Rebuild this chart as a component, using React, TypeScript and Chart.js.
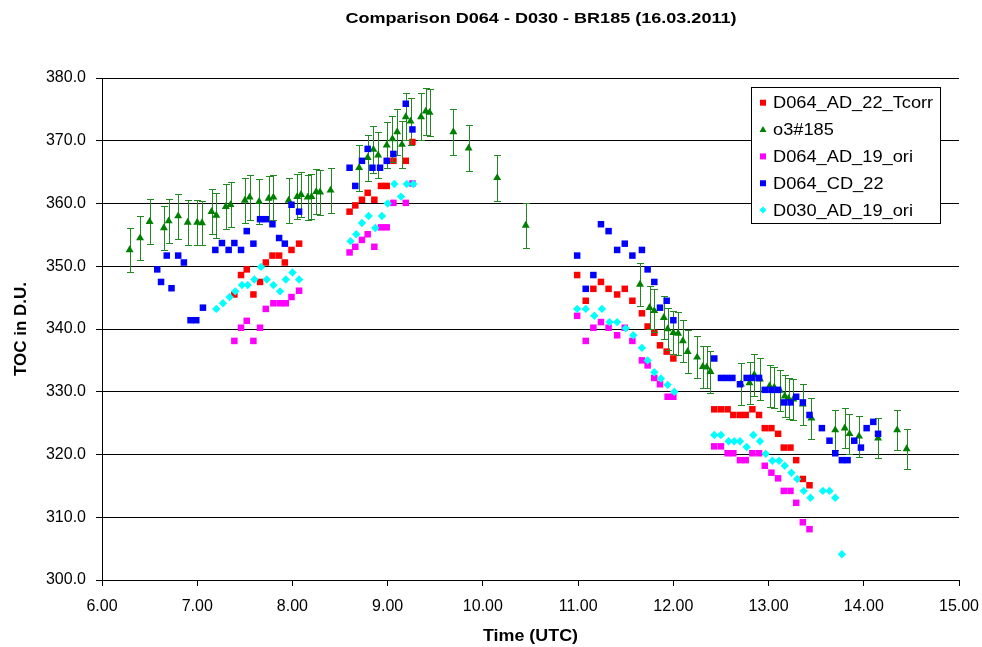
import React, { useEffect, useRef } from 'react';
import { Chart, registerables } from 'chart.js';

Chart.register(...registerables);

const W = 982;
const H = 647;

const chartTitle = 'Comparison D064 - D030 - BR185 (16.03.2011)';
const xAxisTitle = 'Time (UTC)';
const yAxisTitle = 'TOC in D.U.';
const seriesNames = ['D064_AD_22_Tcorr', 'o3#185', 'D064_AD_19_ori', 'D064_CD_22', 'D030_AD_19_ori'];
const seriesColors = ['#ff0000', '#008000', '#ff00ff', '#0000ff', '#00ffff'];
const seriesShapes = ['rect', 'triangle', 'rect', 'rect', 'rectRot'];

const xMin = 6, xMax = 15, xStep = 1;
const yMin = 300, yMax = 380, yStep = 10;
const errFraction = 0.01; // o3#185 error bars: +/- 1 %

// D064_AD_22_Tcorr
const redT = [7.39, 7.46, 7.52, 7.59, 7.66, 7.72, 7.79, 7.86, 7.92, 7.99, 8.07,
  8.60, 8.66, 8.73, 8.79, 8.86, 8.93, 8.99, 9.06, 9.19, 9.26,
  10.99, 11.08, 11.16, 11.24, 11.32, 11.41, 11.49, 11.57, 11.67, 11.73, 11.80, 11.86, 11.93, 12.00,
  12.43, 12.50, 12.57, 12.63, 12.70, 12.76, 12.83, 12.90, 12.96, 13.03, 13.10, 13.16, 13.23, 13.29, 13.36, 13.43];
const redV = [345.5, 348.6, 349.5, 345.5, 347.5, 350.6, 351.7, 351.7, 350.6, 352.6, 353.6,
  358.7, 359.7, 360.6, 361.7, 360.6, 362.8, 362.8, 366.8, 366.8, 369.8,
  348.6, 344.5, 346.4, 347.5, 346.4, 345.5, 346.4, 344.5, 342.5, 340.4, 339.4, 337.4, 336.4, 335.3,
  327.2, 327.2, 327.2, 326.3, 326.3, 326.3, 327.2, 326.3, 324.2, 324.2, 323.3, 321.1, 321.1, 319.1, 316.1, 315.1];

// o3#185
const greenT = [6.29, 6.40, 6.50, 6.65, 6.70, 6.80, 6.90, 7.00, 7.05, 7.15, 7.20, 7.30, 7.35, 7.50, 7.55, 7.65,
  7.75, 7.80, 7.96, 8.05, 8.09, 8.16, 8.20, 8.25, 8.29, 8.40,
  8.70, 8.79, 8.85, 8.90, 8.99, 9.05, 9.10, 9.15, 9.19, 9.24, 9.35, 9.40, 9.44, 9.69, 9.85, 10.15, 10.45,
  11.65, 11.75, 11.80, 11.90, 11.94, 12.00, 12.05, 12.10, 12.15, 12.25, 12.31, 12.35, 12.39,
  12.71, 12.80, 12.85, 12.91, 13.01, 13.06, 13.12, 13.17, 13.21, 13.26, 13.36, 13.45,
  13.70, 13.80, 13.85, 13.95, 14.15, 14.35, 14.45];
const greenV = [352.6, 354.5, 357.1, 356.1, 357.2, 358.0, 357.0, 357.0, 356.9, 358.7, 358.1, 359.5, 359.8, 360.5, 361.0, 360.3,
  360.8, 361.0, 360.5, 361.1, 361.4, 361.0, 361.1, 361.9, 361.8, 362.1,
  365.7, 367.3, 368.6, 367.7, 369.3, 370.3, 371.4, 369.4, 373.8, 373.1, 373.8, 374.7, 374.5, 371.4, 368.8, 364.1, 356.5,
  347.1, 343.4, 342.9, 341.8, 340.0, 339.4, 339.3, 338.1, 336.4, 335.5, 334.0, 333.9, 333.2,
  331.2, 331.4, 332.7, 332.0, 330.9, 330.7, 330.2, 329.3, 328.9, 328.8, 328.0, 325.8,
  323.9, 324.2, 323.3, 322.9, 322.6, 323.9, 320.9];

// D064_AD_19_ori
const magentaT = [7.39, 7.46, 7.52, 7.59, 7.66, 7.72, 7.80, 7.87, 7.93, 7.99, 8.07,
  8.60, 8.66, 8.73, 8.79, 8.86, 8.93, 8.99, 9.06, 9.19, 9.26,
  10.99, 11.08, 11.16, 11.24, 11.32, 11.41, 11.49, 11.57, 11.67, 11.73, 11.80, 11.86, 11.94, 12.00,
  12.43, 12.50, 12.57, 12.63, 12.70, 12.76, 12.83, 12.90, 12.96, 13.03, 13.10, 13.16, 13.23, 13.29, 13.36, 13.43];
const magentaV = [338.1, 340.2, 341.3, 338.1, 340.2, 343.2, 344.1, 344.1, 344.1, 345.1, 346.1,
  352.2, 353.1, 354.2, 355.1, 353.1, 356.2, 356.2, 360.1, 360.1, 363.2,
  342.1, 338.1, 340.2, 341.1, 340.2, 339.0, 340.2, 338.1, 335.0, 334.2, 332.2, 331.2, 329.2, 329.2,
  321.3, 321.3, 320.2, 320.2, 319.1, 319.1, 320.2, 320.2, 318.2, 317.1, 316.2, 314.2, 314.2, 312.3, 309.2, 308.1];

// D064_CD_22
const blueT = [6.58, 6.62, 6.68, 6.73, 6.80, 6.86, 6.93, 6.99, 7.06, 7.19, 7.26, 7.33, 7.39, 7.46, 7.52, 7.59,
  7.66, 7.72, 7.79, 7.86, 7.92, 7.99, 8.07,
  8.60, 8.66, 8.73, 8.79, 8.84, 8.92, 8.99, 9.06, 9.19, 9.26,
  10.99, 11.08, 11.16, 11.24, 11.32, 11.41, 11.49, 11.57, 11.67, 11.73, 11.80, 11.86, 11.93, 12.00,
  12.43, 12.50, 12.56, 12.62, 12.70, 12.77, 12.83, 12.90, 12.96, 13.03, 13.10, 13.16, 13.23, 13.29, 13.36, 13.43,
  13.56, 13.64, 13.70, 13.77, 13.83, 13.90, 13.97, 14.03, 14.10, 14.15];
const blueV = [349.5, 347.5, 351.7, 346.5, 351.7, 350.6, 341.4, 341.4, 343.4, 352.6, 353.7, 352.6, 353.7, 352.6, 355.6, 353.6,
  357.5, 357.5, 356.7, 354.5, 353.6, 359.8, 358.7,
  365.7, 362.8, 366.8, 368.7, 365.7, 365.7, 366.8, 367.9, 375.9, 371.8,
  351.7, 346.4, 348.6, 356.7, 355.6, 352.6, 353.6, 351.7, 352.6, 349.5, 347.5, 343.4, 344.5, 341.4,
  335.3, 332.2, 332.2, 332.2, 331.2, 332.2, 332.2, 332.2, 330.3, 330.3, 330.3, 328.3, 328.3, 329.2, 328.3, 326.3,
  324.2, 322.2, 320.2, 319.1, 319.1, 322.2, 321.1, 324.2, 325.2, 323.3];

// D030_AD_19_ori
const cyanT = [7.20, 7.27, 7.34, 7.40, 7.47, 7.53, 7.60, 7.67, 7.73, 7.80, 7.87, 7.93, 8.00, 8.07,
  8.61, 8.67, 8.73, 8.80, 8.87, 8.94, 9.00, 9.07, 9.14, 9.20, 9.27,
  10.99, 11.08, 11.17, 11.25, 11.33, 11.41, 11.50, 11.58, 11.67, 11.73, 11.80, 11.87, 11.94, 12.01,
  12.43, 12.50, 12.58, 12.64, 12.70, 12.77, 12.84, 12.91, 12.97, 13.04, 13.11, 13.17, 13.24, 13.30, 13.37, 13.44,
  13.57, 13.64, 13.70, 13.77];
const cyanV = [343.2, 344.1, 345.1, 346.0, 347.0, 347.0, 347.9, 349.9, 347.9, 347.0, 346.0, 347.9, 349.0, 347.9,
  354.0, 355.1, 356.9, 358.0, 356.1, 358.0, 360.0, 363.1, 361.1, 363.1, 363.1,
  343.2, 343.2, 342.1, 343.2, 341.1, 341.1, 340.1, 339.0, 337.0, 335.0, 333.1, 332.1, 331.1, 330.0,
  323.1, 323.1, 322.1, 322.1, 322.1, 321.2, 323.1, 322.1, 320.1, 319.0, 319.0, 318.2, 317.1, 316.1, 314.2, 313.1,
  314.2, 314.2, 313.1, 304.1];

const seriesT = [redT, greenT, magentaT, blueT, cyanT];
const seriesV = [redV, greenV, magentaV, blueV, cyanV];
const seriesRadius = [4.6, 4.6, 4.6, 4.6, 4.2];

const FONT = '"Liberation Sans", Arial, sans-serif';

function drawStretched(ctx: CanvasRenderingContext2D, text: string, x: number, y: number, targetW: number | null, sx: number, align: CanvasTextAlign) {
  const w = ctx.measureText(text).width;
  const s = targetW ? targetW / w : sx;
  ctx.save();
  ctx.translate(x, y);
  ctx.scale(s, 1);
  ctx.textAlign = align;
  ctx.fillText(text, 0, 0);
  ctx.restore();
}

const errorBarPlugin = {
  id: 'errorBars',
  beforeDatasetDraw(chart: any, args: any) {
    const ds = chart.data.datasets[args.index];
    if (!ds.errorBars) return;
    const ctx = chart.ctx as CanvasRenderingContext2D;
    const xs = chart.scales.x;
    const ys = chart.scales.y;
    ctx.save();
    ctx.strokeStyle = 'rgb(34,136,34)';
    ctx.lineWidth = 1;
    ds.data.forEach((p: any) => {
      const x = Math.round(xs.getPixelForValue(p.x)) + 0.5;
      const y1 = Math.round(ys.getPixelForValue(p.y * (1 + errFraction))) + 0.5;
      const y2 = Math.round(ys.getPixelForValue(p.y * (1 - errFraction))) + 0.5;
      ctx.beginPath();
      ctx.moveTo(x, y1); ctx.lineTo(x, y2);
      ctx.moveTo(x - 3.5, y1); ctx.lineTo(x + 3.5, y1);
      ctx.moveTo(x - 3.5, y2); ctx.lineTo(x + 3.5, y2);
      ctx.stroke();
    });
    ctx.restore();
  },
};

function drawMarker(ctx: CanvasRenderingContext2D, shape: string, x: number, y: number, color: string) {
  ctx.fillStyle = color;
  ctx.beginPath();
  if (shape === 'rect') {
    ctx.rect(x - 3, y - 3, 6, 6);
  } else if (shape === 'triangle') {
    ctx.moveTo(x, y - 3.5); ctx.lineTo(x + 3.5, y + 2.5); ctx.lineTo(x - 3.5, y + 2.5); ctx.closePath();
  } else {
    ctx.moveTo(x, y - 3.5); ctx.lineTo(x + 3.5, y); ctx.lineTo(x, y + 3.5); ctx.lineTo(x - 3.5, y); ctx.closePath();
  }
  ctx.fill();
}

const textPlugin = {
  id: 'texts',
  afterDraw(chart: any) {
    const ctx = chart.ctx as CanvasRenderingContext2D;
    const area = chart.chartArea;
    ctx.save();
    ctx.fillStyle = '#000';
    ctx.textBaseline = 'middle';
    // title
    ctx.font = `bold 15px ${FONT}`;
    drawStretched(ctx, chartTitle, 541, 19, 391, 1, 'center');
    // x title
    ctx.font = `bold 16px ${FONT}`;
    drawStretched(ctx, xAxisTitle, (area.left + area.right) / 2, 637, 95, 1, 'center');
    // y title
    ctx.save();
    ctx.translate(22, (area.top + area.bottom) / 2);
    ctx.rotate(-Math.PI / 2);
    ctx.font = `bold 16px ${FONT}`;
    drawStretched(ctx, yAxisTitle, 0, 0, 94, 1, 'center');
    ctx.restore();
    // legend box
    const bx = 751.5, by = 87.5, bw = 189, bh = 136;
    ctx.fillStyle = '#fff';
    ctx.fillRect(bx, by, bw, bh);
    ctx.strokeStyle = '#000';
    ctx.lineWidth = 1;
    ctx.strokeRect(bx, by, bw, bh);
    ctx.font = `16px ${FONT}`;
    seriesNames.forEach((name, i) => {
      const cy = 102.7 + i * 26.85;
      drawMarker(ctx, seriesShapes[i], 763, cy, seriesColors[i]);
      ctx.fillStyle = '#000';
      drawStretched(ctx, name, 773, cy + 1, null, 1.14, 'left');
    });
    ctx.restore();
  },
};

export default function App() {
  const ref = useRef<HTMLCanvasElement | null>(null);
  useEffect(() => {
    if (!ref.current) return;
    const order = [5, 4, 3, 2, 1];
    const datasets: any[] = seriesNames.map((name, i) => ({
      label: name,
      data: seriesT[i].map((t, k) => ({ x: t, y: seriesV[i][k] })),
      backgroundColor: seriesColors[i],
      borderColor: seriesColors[i],
      pointStyle: seriesShapes[i],
      pointRadius: seriesRadius[i],
      pointBorderWidth: 0,
      showLine: false,
      order: order[i],
      errorBars: i === 1,
    }));
    const tickFont = { family: FONT, size: 16 };
    const chart = new Chart(ref.current, {
      type: 'scatter',
      data: { datasets },
      plugins: [errorBarPlugin, textPlugin],
      options: {
        responsive: false,
        animation: false,
        events: [],
        layout: { padding: { left: 0, right: 23, top: 78, bottom: 0 } },
        plugins: { legend: { display: false }, title: { display: false }, tooltip: { enabled: false } },
        scales: {
          x: {
            type: 'linear', min: xMin, max: xMax,
            ticks: { stepSize: xStep, autoSkip: false, maxRotation: 0, color: '#000', font: tickFont, padding: 11,
              callback: (v: any) => Number(v).toFixed(2) },
            grid: { display: true, drawOnChartArea: false, drawTicks: true, tickLength: 6, color: '#000' },
            border: { display: true, color: '#000' },
            afterFit: (s: any) => { s.height = 67; s.paddingLeft = 0; s.paddingRight = 0; },
          },
          y: {
            type: 'linear', min: yMin, max: yMax,
            ticks: { stepSize: yStep, color: '#000', font: tickFont, padding: 10,
              callback: (v: any) => Number(v).toFixed(1) },
            grid: { color: '#000', tickLength: 6 },
            border: { display: true, color: '#000' },
            afterFit: (s: any) => { s.width = 102; s.paddingTop = 0; s.paddingBottom = 0; },
          },
        },
      } as any,
    });
    return () => chart.destroy();
  }, []);
  return (
    <div style={{ position: 'absolute', left: 0, top: 0, width: W, height: H, background: '#fff' }}>
      <canvas ref={ref} width={W} height={H} style={{ display: 'block', width: W, height: H }} />
    </div>
  );
}
